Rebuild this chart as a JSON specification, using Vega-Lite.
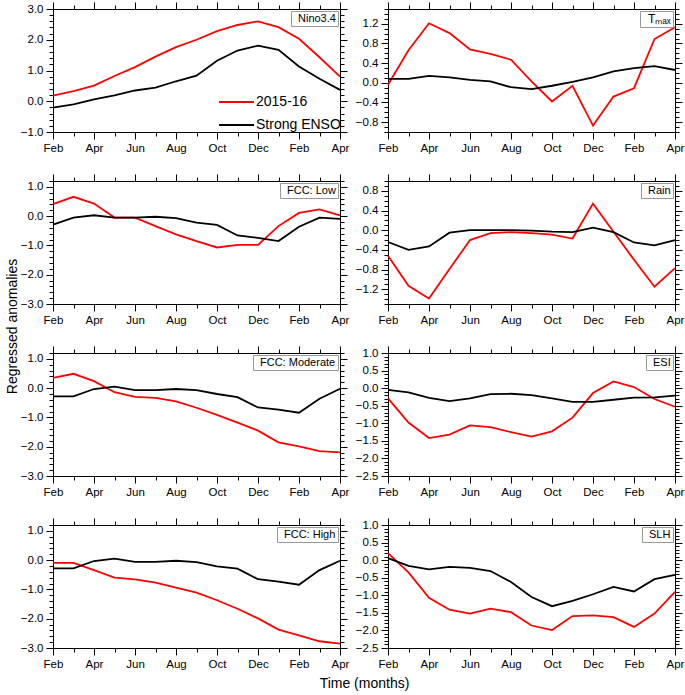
{
"$schema":"https://vega.github.io/schema/vega-lite/v6.json",
"background":"white",
"padding":{"left":4,"top":1,"right":0,"bottom":0},
"config":{"font":"Liberation Sans","view":{"stroke":"black","strokeWidth":1},"axis":{"grid":false,"domain":false,"tickColor":"black","tickWidth":1,"labelColor":"black","labelFont":"Liberation Sans","labelFontSize":11.5,"labelPadding":3,"titleFont":"Liberation Sans","titleFontSize":14,"titleFontWeight":"normal","titleColor":"black"},"legend":{"labelFont":"Liberation Sans","labelColor":"black"}},
"data":{"values":[
{"p":"Nino3.4","s":"2015-16","m":0,"v":0.18},{"p":"Nino3.4","s":"2015-16","m":1,"v":0.33},{"p":"Nino3.4","s":"2015-16","m":2,"v":0.51},{"p":"Nino3.4","s":"2015-16","m":3,"v":0.82},{"p":"Nino3.4","s":"2015-16","m":4,"v":1.11},{"p":"Nino3.4","s":"2015-16","m":5,"v":1.45},{"p":"Nino3.4","s":"2015-16","m":6,"v":1.76},{"p":"Nino3.4","s":"2015-16","m":7,"v":2.0},{"p":"Nino3.4","s":"2015-16","m":8,"v":2.28},{"p":"Nino3.4","s":"2015-16","m":9,"v":2.48},{"p":"Nino3.4","s":"2015-16","m":10,"v":2.6},{"p":"Nino3.4","s":"2015-16","m":11,"v":2.41},{"p":"Nino3.4","s":"2015-16","m":12,"v":2.03},{"p":"Nino3.4","s":"2015-16","m":13,"v":1.43},{"p":"Nino3.4","s":"2015-16","m":14,"v":0.8},
{"p":"Nino3.4","s":"Strong ENSO","m":0,"v":-0.21},{"p":"Nino3.4","s":"Strong ENSO","m":1,"v":-0.1},{"p":"Nino3.4","s":"Strong ENSO","m":2,"v":0.06},{"p":"Nino3.4","s":"Strong ENSO","m":3,"v":0.19},{"p":"Nino3.4","s":"Strong ENSO","m":4,"v":0.35},{"p":"Nino3.4","s":"Strong ENSO","m":5,"v":0.44},{"p":"Nino3.4","s":"Strong ENSO","m":6,"v":0.65},{"p":"Nino3.4","s":"Strong ENSO","m":7,"v":0.83},{"p":"Nino3.4","s":"Strong ENSO","m":8,"v":1.32},{"p":"Nino3.4","s":"Strong ENSO","m":9,"v":1.65},{"p":"Nino3.4","s":"Strong ENSO","m":10,"v":1.81},{"p":"Nino3.4","s":"Strong ENSO","m":11,"v":1.67},{"p":"Nino3.4","s":"Strong ENSO","m":12,"v":1.13},{"p":"Nino3.4","s":"Strong ENSO","m":13,"v":0.73},{"p":"Nino3.4","s":"Strong ENSO","m":14,"v":0.37},
{"p":"Tₘₐₓ","s":"2015-16","m":0,"v":-0.04},{"p":"Tₘₐₓ","s":"2015-16","m":1,"v":0.66},{"p":"Tₘₐₓ","s":"2015-16","m":2,"v":1.21},{"p":"Tₘₐₓ","s":"2015-16","m":3,"v":1.01},{"p":"Tₘₐₓ","s":"2015-16","m":4,"v":0.68},{"p":"Tₘₐₓ","s":"2015-16","m":5,"v":0.59},{"p":"Tₘₐₓ","s":"2015-16","m":6,"v":0.47},{"p":"Tₘₐₓ","s":"2015-16","m":7,"v":0.03},{"p":"Tₘₐₓ","s":"2015-16","m":8,"v":-0.38},{"p":"Tₘₐₓ","s":"2015-16","m":9,"v":-0.06},{"p":"Tₘₐₓ","s":"2015-16","m":10,"v":-0.87},{"p":"Tₘₐₓ","s":"2015-16","m":11,"v":-0.28},{"p":"Tₘₐₓ","s":"2015-16","m":12,"v":-0.11},{"p":"Tₘₐₓ","s":"2015-16","m":13,"v":0.89},{"p":"Tₘₐₓ","s":"2015-16","m":14,"v":1.13},
{"p":"Tₘₐₓ","s":"Strong ENSO","m":0,"v":0.08},{"p":"Tₘₐₓ","s":"Strong ENSO","m":1,"v":0.08},{"p":"Tₘₐₓ","s":"Strong ENSO","m":2,"v":0.14},{"p":"Tₘₐₓ","s":"Strong ENSO","m":3,"v":0.11},{"p":"Tₘₐₓ","s":"Strong ENSO","m":4,"v":0.06},{"p":"Tₘₐₓ","s":"Strong ENSO","m":5,"v":0.03},{"p":"Tₘₐₓ","s":"Strong ENSO","m":6,"v":-0.09},{"p":"Tₘₐₓ","s":"Strong ENSO","m":7,"v":-0.13},{"p":"Tₘₐₓ","s":"Strong ENSO","m":8,"v":-0.06},{"p":"Tₘₐₓ","s":"Strong ENSO","m":9,"v":0.02},{"p":"Tₘₐₓ","s":"Strong ENSO","m":10,"v":0.11},{"p":"Tₘₐₓ","s":"Strong ENSO","m":11,"v":0.23},{"p":"Tₘₐₓ","s":"Strong ENSO","m":12,"v":0.3},{"p":"Tₘₐₓ","s":"Strong ENSO","m":13,"v":0.34},{"p":"Tₘₐₓ","s":"Strong ENSO","m":14,"v":0.26},
{"p":"FCC: Low","s":"2015-16","m":0,"v":0.41},{"p":"FCC: Low","s":"2015-16","m":1,"v":0.66},{"p":"FCC: Low","s":"2015-16","m":2,"v":0.43},{"p":"FCC: Low","s":"2015-16","m":3,"v":-0.05},{"p":"FCC: Low","s":"2015-16","m":4,"v":-0.05},{"p":"FCC: Low","s":"2015-16","m":5,"v":-0.34},{"p":"FCC: Low","s":"2015-16","m":6,"v":-0.62},{"p":"FCC: Low","s":"2015-16","m":7,"v":-0.85},{"p":"FCC: Low","s":"2015-16","m":8,"v":-1.07},{"p":"FCC: Low","s":"2015-16","m":9,"v":-0.98},{"p":"FCC: Low","s":"2015-16","m":10,"v":-0.98},{"p":"FCC: Low","s":"2015-16","m":11,"v":-0.34},{"p":"FCC: Low","s":"2015-16","m":12,"v":0.11},{"p":"FCC: Low","s":"2015-16","m":13,"v":0.23},{"p":"FCC: Low","s":"2015-16","m":14,"v":0.03},
{"p":"FCC: Low","s":"Strong ENSO","m":0,"v":-0.29},{"p":"FCC: Low","s":"Strong ENSO","m":1,"v":-0.05},{"p":"FCC: Low","s":"Strong ENSO","m":2,"v":0.03},{"p":"FCC: Low","s":"Strong ENSO","m":3,"v":-0.05},{"p":"FCC: Low","s":"Strong ENSO","m":4,"v":-0.05},{"p":"FCC: Low","s":"Strong ENSO","m":5,"v":-0.02},{"p":"FCC: Low","s":"Strong ENSO","m":6,"v":-0.07},{"p":"FCC: Low","s":"Strong ENSO","m":7,"v":-0.22},{"p":"FCC: Low","s":"Strong ENSO","m":8,"v":-0.3},{"p":"FCC: Low","s":"Strong ENSO","m":9,"v":-0.66},{"p":"FCC: Low","s":"Strong ENSO","m":10,"v":-0.74},{"p":"FCC: Low","s":"Strong ENSO","m":11,"v":-0.85},{"p":"FCC: Low","s":"Strong ENSO","m":12,"v":-0.36},{"p":"FCC: Low","s":"Strong ENSO","m":13,"v":-0.05},{"p":"FCC: Low","s":"Strong ENSO","m":14,"v":-0.09},
{"p":"Rain","s":"2015-16","m":0,"v":-0.52},{"p":"Rain","s":"2015-16","m":1,"v":-1.13},{"p":"Rain","s":"2015-16","m":2,"v":-1.39},{"p":"Rain","s":"2015-16","m":3,"v":-0.79},{"p":"Rain","s":"2015-16","m":4,"v":-0.2},{"p":"Rain","s":"2015-16","m":5,"v":-0.06},{"p":"Rain","s":"2015-16","m":6,"v":-0.04},{"p":"Rain","s":"2015-16","m":7,"v":-0.06},{"p":"Rain","s":"2015-16","m":8,"v":-0.09},{"p":"Rain","s":"2015-16","m":9,"v":-0.17},{"p":"Rain","s":"2015-16","m":10,"v":0.54},{"p":"Rain","s":"2015-16","m":11,"v":-0.03},{"p":"Rain","s":"2015-16","m":12,"v":-0.6},{"p":"Rain","s":"2015-16","m":13,"v":-1.15},{"p":"Rain","s":"2015-16","m":14,"v":-0.77},
{"p":"Rain","s":"Strong ENSO","m":0,"v":-0.24},{"p":"Rain","s":"Strong ENSO","m":1,"v":-0.4},{"p":"Rain","s":"Strong ENSO","m":2,"v":-0.33},{"p":"Rain","s":"Strong ENSO","m":3,"v":-0.05},{"p":"Rain","s":"Strong ENSO","m":4,"v":0.0},{"p":"Rain","s":"Strong ENSO","m":5,"v":0.0},{"p":"Rain","s":"Strong ENSO","m":6,"v":0.0},{"p":"Rain","s":"Strong ENSO","m":7,"v":-0.01},{"p":"Rain","s":"Strong ENSO","m":8,"v":-0.03},{"p":"Rain","s":"Strong ENSO","m":9,"v":-0.04},{"p":"Rain","s":"Strong ENSO","m":10,"v":0.05},{"p":"Rain","s":"Strong ENSO","m":11,"v":-0.04},{"p":"Rain","s":"Strong ENSO","m":12,"v":-0.25},{"p":"Rain","s":"Strong ENSO","m":13,"v":-0.31},{"p":"Rain","s":"Strong ENSO","m":14,"v":-0.2},
{"p":"FCC: Moderate","s":"2015-16","m":0,"v":0.35},{"p":"FCC: Moderate","s":"2015-16","m":1,"v":0.49},{"p":"FCC: Moderate","s":"2015-16","m":2,"v":0.24},{"p":"FCC: Moderate","s":"2015-16","m":3,"v":-0.14},{"p":"FCC: Moderate","s":"2015-16","m":4,"v":-0.3},{"p":"FCC: Moderate","s":"2015-16","m":5,"v":-0.33},{"p":"FCC: Moderate","s":"2015-16","m":6,"v":-0.45},{"p":"FCC: Moderate","s":"2015-16","m":7,"v":-0.67},{"p":"FCC: Moderate","s":"2015-16","m":8,"v":-0.91},{"p":"FCC: Moderate","s":"2015-16","m":9,"v":-1.18},{"p":"FCC: Moderate","s":"2015-16","m":10,"v":-1.45},{"p":"FCC: Moderate","s":"2015-16","m":11,"v":-1.85},{"p":"FCC: Moderate","s":"2015-16","m":12,"v":-1.99},{"p":"FCC: Moderate","s":"2015-16","m":13,"v":-2.15},{"p":"FCC: Moderate","s":"2015-16","m":14,"v":-2.19},
{"p":"FCC: Moderate","s":"Strong ENSO","m":0,"v":-0.28},{"p":"FCC: Moderate","s":"Strong ENSO","m":1,"v":-0.28},{"p":"FCC: Moderate","s":"Strong ENSO","m":2,"v":-0.03},{"p":"FCC: Moderate","s":"Strong ENSO","m":3,"v":0.05},{"p":"FCC: Moderate","s":"Strong ENSO","m":4,"v":-0.07},{"p":"FCC: Moderate","s":"Strong ENSO","m":5,"v":-0.07},{"p":"FCC: Moderate","s":"Strong ENSO","m":6,"v":-0.03},{"p":"FCC: Moderate","s":"Strong ENSO","m":7,"v":-0.07},{"p":"FCC: Moderate","s":"Strong ENSO","m":8,"v":-0.2},{"p":"FCC: Moderate","s":"Strong ENSO","m":9,"v":-0.31},{"p":"FCC: Moderate","s":"Strong ENSO","m":10,"v":-0.66},{"p":"FCC: Moderate","s":"Strong ENSO","m":11,"v":-0.73},{"p":"FCC: Moderate","s":"Strong ENSO","m":12,"v":-0.84},{"p":"FCC: Moderate","s":"Strong ENSO","m":13,"v":-0.36},{"p":"FCC: Moderate","s":"Strong ENSO","m":14,"v":-0.02},
{"p":"ESI","s":"2015-16","m":0,"v":-0.29},{"p":"ESI","s":"2015-16","m":1,"v":-0.98},{"p":"ESI","s":"2015-16","m":2,"v":-1.42},{"p":"ESI","s":"2015-16","m":3,"v":-1.32},{"p":"ESI","s":"2015-16","m":4,"v":-1.06},{"p":"ESI","s":"2015-16","m":5,"v":-1.11},{"p":"ESI","s":"2015-16","m":6,"v":-1.25},{"p":"ESI","s":"2015-16","m":7,"v":-1.38},{"p":"ESI","s":"2015-16","m":8,"v":-1.23},{"p":"ESI","s":"2015-16","m":9,"v":-0.84},{"p":"ESI","s":"2015-16","m":10,"v":-0.14},{"p":"ESI","s":"2015-16","m":11,"v":0.19},{"p":"ESI","s":"2015-16","m":12,"v":0.03},{"p":"ESI","s":"2015-16","m":13,"v":-0.31},{"p":"ESI","s":"2015-16","m":14,"v":-0.53},
{"p":"ESI","s":"Strong ENSO","m":0,"v":-0.05},{"p":"ESI","s":"Strong ENSO","m":1,"v":-0.12},{"p":"ESI","s":"Strong ENSO","m":2,"v":-0.28},{"p":"ESI","s":"Strong ENSO","m":3,"v":-0.37},{"p":"ESI","s":"Strong ENSO","m":4,"v":-0.29},{"p":"ESI","s":"Strong ENSO","m":5,"v":-0.17},{"p":"ESI","s":"Strong ENSO","m":6,"v":-0.16},{"p":"ESI","s":"Strong ENSO","m":7,"v":-0.2},{"p":"ESI","s":"Strong ENSO","m":8,"v":-0.29},{"p":"ESI","s":"Strong ENSO","m":9,"v":-0.39},{"p":"ESI","s":"Strong ENSO","m":10,"v":-0.39},{"p":"ESI","s":"Strong ENSO","m":11,"v":-0.33},{"p":"ESI","s":"Strong ENSO","m":12,"v":-0.27},{"p":"ESI","s":"Strong ENSO","m":13,"v":-0.26},{"p":"ESI","s":"Strong ENSO","m":14,"v":-0.21},
{"p":"FCC: High","s":"2015-16","m":0,"v":-0.09},{"p":"FCC: High","s":"2015-16","m":1,"v":-0.09},{"p":"FCC: High","s":"2015-16","m":2,"v":-0.34},{"p":"FCC: High","s":"2015-16","m":3,"v":-0.6},{"p":"FCC: High","s":"2015-16","m":4,"v":-0.66},{"p":"FCC: High","s":"2015-16","m":5,"v":-0.77},{"p":"FCC: High","s":"2015-16","m":6,"v":-0.94},{"p":"FCC: High","s":"2015-16","m":7,"v":-1.11},{"p":"FCC: High","s":"2015-16","m":8,"v":-1.37},{"p":"FCC: High","s":"2015-16","m":9,"v":-1.66},{"p":"FCC: High","s":"2015-16","m":10,"v":-1.99},{"p":"FCC: High","s":"2015-16","m":11,"v":-2.37},{"p":"FCC: High","s":"2015-16","m":12,"v":-2.57},{"p":"FCC: High","s":"2015-16","m":13,"v":-2.77},{"p":"FCC: High","s":"2015-16","m":14,"v":-2.85},
{"p":"FCC: High","s":"Strong ENSO","m":0,"v":-0.28},{"p":"FCC: High","s":"Strong ENSO","m":1,"v":-0.28},{"p":"FCC: High","s":"Strong ENSO","m":2,"v":-0.03},{"p":"FCC: High","s":"Strong ENSO","m":3,"v":0.05},{"p":"FCC: High","s":"Strong ENSO","m":4,"v":-0.06},{"p":"FCC: High","s":"Strong ENSO","m":5,"v":-0.06},{"p":"FCC: High","s":"Strong ENSO","m":6,"v":-0.02},{"p":"FCC: High","s":"Strong ENSO","m":7,"v":-0.07},{"p":"FCC: High","s":"Strong ENSO","m":8,"v":-0.21},{"p":"FCC: High","s":"Strong ENSO","m":9,"v":-0.29},{"p":"FCC: High","s":"Strong ENSO","m":10,"v":-0.65},{"p":"FCC: High","s":"Strong ENSO","m":11,"v":-0.73},{"p":"FCC: High","s":"Strong ENSO","m":12,"v":-0.84},{"p":"FCC: High","s":"Strong ENSO","m":13,"v":-0.34},{"p":"FCC: High","s":"Strong ENSO","m":14,"v":-0.02},
{"p":"SLH","s":"2015-16","m":0,"v":0.2},{"p":"SLH","s":"2015-16","m":1,"v":-0.35},{"p":"SLH","s":"2015-16","m":2,"v":-1.07},{"p":"SLH","s":"2015-16","m":3,"v":-1.41},{"p":"SLH","s":"2015-16","m":4,"v":-1.52},{"p":"SLH","s":"2015-16","m":5,"v":-1.38},{"p":"SLH","s":"2015-16","m":6,"v":-1.48},{"p":"SLH","s":"2015-16","m":7,"v":-1.86},{"p":"SLH","s":"2015-16","m":8,"v":-1.99},{"p":"SLH","s":"2015-16","m":9,"v":-1.59},{"p":"SLH","s":"2015-16","m":10,"v":-1.57},{"p":"SLH","s":"2015-16","m":11,"v":-1.62},{"p":"SLH","s":"2015-16","m":12,"v":-1.9},{"p":"SLH","s":"2015-16","m":13,"v":-1.52},{"p":"SLH","s":"2015-16","m":14,"v":-0.9},
{"p":"SLH","s":"Strong ENSO","m":0,"v":0.06},{"p":"SLH","s":"Strong ENSO","m":1,"v":-0.16},{"p":"SLH","s":"Strong ENSO","m":2,"v":-0.26},{"p":"SLH","s":"Strong ENSO","m":3,"v":-0.19},{"p":"SLH","s":"Strong ENSO","m":4,"v":-0.22},{"p":"SLH","s":"Strong ENSO","m":5,"v":-0.31},{"p":"SLH","s":"Strong ENSO","m":6,"v":-0.62},{"p":"SLH","s":"Strong ENSO","m":7,"v":-1.05},{"p":"SLH","s":"Strong ENSO","m":8,"v":-1.31},{"p":"SLH","s":"Strong ENSO","m":9,"v":-1.16},{"p":"SLH","s":"Strong ENSO","m":10,"v":-0.97},{"p":"SLH","s":"Strong ENSO","m":11,"v":-0.76},{"p":"SLH","s":"Strong ENSO","m":12,"v":-0.89},{"p":"SLH","s":"Strong ENSO","m":13,"v":-0.54},{"p":"SLH","s":"Strong ENSO","m":14,"v":-0.42}
]},
"columns":2,
"spacing":{"row":49,"column":48},
"bounds":"flush",
"resolve":{"scale":{"color":"independent","shape":"independent"},"legend":{"color":"independent","shape":"independent"}},
"concat":[
{"width":287,"height":123,"transform":[{"filter":"datum.p == 'Nino3.4'"}],
"layer":[
{"mark":{"type":"line","strokeWidth":1.8},"encoding":{
"x":{"field":"m","type":"quantitative","scale":{"domain":[0,14],"nice":false,"zero":false},"axis":{"orient":"bottom","values":[0,1,2,3,4,5,6,7,8,9,10,11,12,13,14],"tickSize":{"condition":{"test":"datum.value % 2 == 0","value":7},"value":4},"labelExpr":"datum.value % 2 == 0 ? ['Feb','Mar','Apr','May','Jun','Jul','Aug','Sep','Oct','Nov','Dec','Jan','Feb','Mar','Apr'][datum.value] : ''","labelFlush":false,"labelOverlap":false,"title":null}},
"y":{"field":"v","type":"quantitative","scale":{"domain":[-1,3],"nice":false,"zero":false},"axis":{"values":[-1,-0.8,-0.6,-0.4,-0.2,0,0.2,0.4,0.6,0.8,1,1.2,1.4,1.6,1.8,2,2.2,2.4,2.6,2.8,3],"tickSize":{"condition":{"test":"abs(datum.value - round(datum.value)) < 0.001","value":7},"value":4},"labelExpr":"abs(datum.value - round(datum.value)) < 0.001 ? format(datum.value, '.1f') : ''","labelOverlap":false,"title":null}},
"color":{"field":"s","type":"nominal","scale":{"domain":["2015-16","Strong ENSO"],"range":["#ff0000","#000000"]},"legend":{"orient":"none","legendX":175.5,"legendY":85,"title":null,"symbolType":"M-2.5,0H2.5","symbolSize":196,"symbolStrokeWidth":2,"labelFontSize":14,"labelOffset":11.5,"rowPadding":8,"padding":0}}}},
{"mark":{"type":"point","opacity":0},"encoding":{
"x":{"field":"m","type":"quantitative","axis":{"orient":"top","values":[0,1,2,3,4,5,6,7,8,9,10,11,12,13,14],"tickSize":{"condition":{"test":"datum.value % 2 == 0","value":7},"value":4},"labels":false,"title":null}},
"y":{"field":"v","type":"quantitative","axis":{"orient":"right","values":[-1,-0.8,-0.6,-0.4,-0.2,0,0.2,0.4,0.6,0.8,1,1.2,1.4,1.6,1.8,2,2.2,2.4,2.6,2.8,3],"tickSize":{"condition":{"test":"abs(datum.value - round(datum.value)) < 0.001","value":7},"value":4},"labels":false,"title":null}},
"shape":{"field":"p","type":"nominal","legend":{"orient":"top-right","offset":2,"title":null,"symbolSize":0,"symbolOpacity":0,"symbolStrokeWidth":0,"labelOffset":-6,"padding":2,"strokeColor":"#999999","fillColor":"white","labelFontSize":11}}}}
],
"resolve":{"axis":{"x":"independent","y":"independent"}}},
{"width":287,"height":123,"transform":[{"filter":"datum.p == 'Tₘₐₓ'"}],
"layer":[
{"mark":{"type":"line","strokeWidth":1.8},"encoding":{
"x":{"field":"m","type":"quantitative","scale":{"domain":[0,14],"nice":false,"zero":false},"axis":{"orient":"bottom","values":[0,1,2,3,4,5,6,7,8,9,10,11,12,13,14],"tickSize":{"condition":{"test":"datum.value % 2 == 0","value":7},"value":4},"labelExpr":"datum.value % 2 == 0 ? ['Feb','Mar','Apr','May','Jun','Jul','Aug','Sep','Oct','Nov','Dec','Jan','Feb','Mar','Apr'][datum.value] : ''","labelFlush":false,"labelOverlap":false,"title":null}},
"y":{"field":"v","type":"quantitative","scale":{"domain":[-1,1.5],"nice":false,"zero":false},"axis":{"values":[-1,-0.9,-0.8,-0.7,-0.6,-0.5,-0.4,-0.3,-0.2,-0.1,0,0.1,0.2,0.3,0.4,0.5,0.6,0.7,0.8,0.9,1,1.1,1.2,1.3,1.4,1.5],"tickSize":{"condition":{"test":"abs(datum.value * 2.5 - round(datum.value * 2.5)) < 0.001","value":7},"value":4},"labelExpr":"abs(datum.value * 2.5 - round(datum.value * 2.5)) < 0.001 ? format(datum.value, '.1f') : ''","labelOverlap":false,"title":null}},
"color":{"field":"s","type":"nominal","scale":{"domain":["2015-16","Strong ENSO"],"range":["#ff0000","#000000"]},"legend":null}}},
{"mark":{"type":"point","opacity":0},"encoding":{
"x":{"field":"m","type":"quantitative","axis":{"orient":"top","values":[0,1,2,3,4,5,6,7,8,9,10,11,12,13,14],"tickSize":{"condition":{"test":"datum.value % 2 == 0","value":7},"value":4},"labels":false,"title":null}},
"y":{"field":"v","type":"quantitative","axis":{"orient":"right","values":[-1,-0.9,-0.8,-0.7,-0.6,-0.5,-0.4,-0.3,-0.2,-0.1,0,0.1,0.2,0.3,0.4,0.5,0.6,0.7,0.8,0.9,1,1.1,1.2,1.3,1.4,1.5],"tickSize":{"condition":{"test":"abs(datum.value * 2.5 - round(datum.value * 2.5)) < 0.001","value":7},"value":4},"labels":false,"title":null}},
"shape":{"field":"p","type":"nominal","legend":{"orient":"top-right","offset":2,"title":null,"symbolSize":0,"symbolOpacity":0,"symbolStrokeWidth":0,"labelOffset":-6,"padding":2,"strokeColor":"#999999","fillColor":"white","labelFontSize":12}}}}
],
"resolve":{"axis":{"x":"independent","y":"independent"}}},
{"width":287,"height":123,"transform":[{"filter":"datum.p == 'FCC: Low'"}],
"layer":[
{"mark":{"type":"line","strokeWidth":1.8},"encoding":{
"x":{"field":"m","type":"quantitative","scale":{"domain":[0,14],"nice":false,"zero":false},"axis":{"orient":"bottom","values":[0,1,2,3,4,5,6,7,8,9,10,11,12,13,14],"tickSize":{"condition":{"test":"datum.value % 2 == 0","value":7},"value":4},"labelExpr":"datum.value % 2 == 0 ? ['Feb','Mar','Apr','May','Jun','Jul','Aug','Sep','Oct','Nov','Dec','Jan','Feb','Mar','Apr'][datum.value] : ''","labelFlush":false,"labelOverlap":false,"title":null}},
"y":{"field":"v","type":"quantitative","scale":{"domain":[-3,1.2],"nice":false,"zero":false},"axis":{"values":[-3,-2.8,-2.6,-2.4,-2.2,-2,-1.8,-1.6,-1.4,-1.2,-1,-0.8,-0.6,-0.4,-0.2,0,0.2,0.4,0.6,0.8,1,1.2],"tickSize":{"condition":{"test":"abs(datum.value - round(datum.value)) < 0.001","value":7},"value":4},"labelExpr":"abs(datum.value - round(datum.value)) < 0.001 ? format(datum.value, '.1f') : ''","labelOverlap":false,"title":"Regressed anomalies","titleX":-41,"titleY":145,"titleAngle":270,"titleAlign":"center","titleBaseline":"middle"}},
"color":{"field":"s","type":"nominal","scale":{"domain":["2015-16","Strong ENSO"],"range":["#ff0000","#000000"]},"legend":null}}},
{"mark":{"type":"point","opacity":0},"encoding":{
"x":{"field":"m","type":"quantitative","axis":{"orient":"top","values":[0,1,2,3,4,5,6,7,8,9,10,11,12,13,14],"tickSize":{"condition":{"test":"datum.value % 2 == 0","value":7},"value":4},"labels":false,"title":null}},
"y":{"field":"v","type":"quantitative","axis":{"orient":"right","values":[-3,-2.8,-2.6,-2.4,-2.2,-2,-1.8,-1.6,-1.4,-1.2,-1,-0.8,-0.6,-0.4,-0.2,0,0.2,0.4,0.6,0.8,1,1.2],"tickSize":{"condition":{"test":"abs(datum.value - round(datum.value)) < 0.001","value":7},"value":4},"labels":false,"title":null}},
"shape":{"field":"p","type":"nominal","legend":{"orient":"top-right","offset":2,"title":null,"symbolSize":0,"symbolOpacity":0,"symbolStrokeWidth":0,"labelOffset":-6,"padding":2,"strokeColor":"#999999","fillColor":"white","labelFontSize":11}}}}
],
"resolve":{"axis":{"x":"independent","y":"independent"}}},
{"width":287,"height":123,"transform":[{"filter":"datum.p == 'Rain'"}],
"layer":[
{"mark":{"type":"line","strokeWidth":1.8},"encoding":{
"x":{"field":"m","type":"quantitative","scale":{"domain":[0,14],"nice":false,"zero":false},"axis":{"orient":"bottom","values":[0,1,2,3,4,5,6,7,8,9,10,11,12,13,14],"tickSize":{"condition":{"test":"datum.value % 2 == 0","value":7},"value":4},"labelExpr":"datum.value % 2 == 0 ? ['Feb','Mar','Apr','May','Jun','Jul','Aug','Sep','Oct','Nov','Dec','Jan','Feb','Mar','Apr'][datum.value] : ''","labelFlush":false,"labelOverlap":false,"title":null}},
"y":{"field":"v","type":"quantitative","scale":{"domain":[-1.5,1],"nice":false,"zero":false},"axis":{"values":[-1.5,-1.4,-1.3,-1.2,-1.1,-1,-0.9,-0.8,-0.7,-0.6,-0.5,-0.4,-0.3,-0.2,-0.1,0,0.1,0.2,0.3,0.4,0.5,0.6,0.7,0.8,0.9,1],"tickSize":{"condition":{"test":"abs(datum.value * 2.5 - round(datum.value * 2.5)) < 0.001","value":7},"value":4},"labelExpr":"abs(datum.value * 2.5 - round(datum.value * 2.5)) < 0.001 ? format(datum.value, '.1f') : ''","labelOverlap":false,"title":null}},
"color":{"field":"s","type":"nominal","scale":{"domain":["2015-16","Strong ENSO"],"range":["#ff0000","#000000"]},"legend":null}}},
{"mark":{"type":"point","opacity":0},"encoding":{
"x":{"field":"m","type":"quantitative","axis":{"orient":"top","values":[0,1,2,3,4,5,6,7,8,9,10,11,12,13,14],"tickSize":{"condition":{"test":"datum.value % 2 == 0","value":7},"value":4},"labels":false,"title":null}},
"y":{"field":"v","type":"quantitative","axis":{"orient":"right","values":[-1.5,-1.4,-1.3,-1.2,-1.1,-1,-0.9,-0.8,-0.7,-0.6,-0.5,-0.4,-0.3,-0.2,-0.1,0,0.1,0.2,0.3,0.4,0.5,0.6,0.7,0.8,0.9,1],"tickSize":{"condition":{"test":"abs(datum.value * 2.5 - round(datum.value * 2.5)) < 0.001","value":7},"value":4},"labels":false,"title":null}},
"shape":{"field":"p","type":"nominal","legend":{"orient":"top-right","offset":2,"title":null,"symbolSize":0,"symbolOpacity":0,"symbolStrokeWidth":0,"labelOffset":-6,"padding":2,"strokeColor":"#999999","fillColor":"white","labelFontSize":11}}}}
],
"resolve":{"axis":{"x":"independent","y":"independent"}}},
{"width":287,"height":123,"transform":[{"filter":"datum.p == 'FCC: Moderate'"}],
"layer":[
{"mark":{"type":"line","strokeWidth":1.8},"encoding":{
"x":{"field":"m","type":"quantitative","scale":{"domain":[0,14],"nice":false,"zero":false},"axis":{"orient":"bottom","values":[0,1,2,3,4,5,6,7,8,9,10,11,12,13,14],"tickSize":{"condition":{"test":"datum.value % 2 == 0","value":7},"value":4},"labelExpr":"datum.value % 2 == 0 ? ['Feb','Mar','Apr','May','Jun','Jul','Aug','Sep','Oct','Nov','Dec','Jan','Feb','Mar','Apr'][datum.value] : ''","labelFlush":false,"labelOverlap":false,"title":null}},
"y":{"field":"v","type":"quantitative","scale":{"domain":[-3,1.2],"nice":false,"zero":false},"axis":{"values":[-3,-2.8,-2.6,-2.4,-2.2,-2,-1.8,-1.6,-1.4,-1.2,-1,-0.8,-0.6,-0.4,-0.2,0,0.2,0.4,0.6,0.8,1,1.2],"tickSize":{"condition":{"test":"abs(datum.value - round(datum.value)) < 0.001","value":7},"value":4},"labelExpr":"abs(datum.value - round(datum.value)) < 0.001 ? format(datum.value, '.1f') : ''","labelOverlap":false,"title":null}},
"color":{"field":"s","type":"nominal","scale":{"domain":["2015-16","Strong ENSO"],"range":["#ff0000","#000000"]},"legend":null}}},
{"mark":{"type":"point","opacity":0},"encoding":{
"x":{"field":"m","type":"quantitative","axis":{"orient":"top","values":[0,1,2,3,4,5,6,7,8,9,10,11,12,13,14],"tickSize":{"condition":{"test":"datum.value % 2 == 0","value":7},"value":4},"labels":false,"title":null}},
"y":{"field":"v","type":"quantitative","axis":{"orient":"right","values":[-3,-2.8,-2.6,-2.4,-2.2,-2,-1.8,-1.6,-1.4,-1.2,-1,-0.8,-0.6,-0.4,-0.2,0,0.2,0.4,0.6,0.8,1,1.2],"tickSize":{"condition":{"test":"abs(datum.value - round(datum.value)) < 0.001","value":7},"value":4},"labels":false,"title":null}},
"shape":{"field":"p","type":"nominal","legend":{"orient":"top-right","offset":2,"title":null,"symbolSize":0,"symbolOpacity":0,"symbolStrokeWidth":0,"labelOffset":-6,"padding":2,"strokeColor":"#999999","fillColor":"white","labelFontSize":11}}}}
],
"resolve":{"axis":{"x":"independent","y":"independent"}}},
{"width":287,"height":123,"transform":[{"filter":"datum.p == 'ESI'"}],
"layer":[
{"mark":{"type":"line","strokeWidth":1.8},"encoding":{
"x":{"field":"m","type":"quantitative","scale":{"domain":[0,14],"nice":false,"zero":false},"axis":{"orient":"bottom","values":[0,1,2,3,4,5,6,7,8,9,10,11,12,13,14],"tickSize":{"condition":{"test":"datum.value % 2 == 0","value":7},"value":4},"labelExpr":"datum.value % 2 == 0 ? ['Feb','Mar','Apr','May','Jun','Jul','Aug','Sep','Oct','Nov','Dec','Jan','Feb','Mar','Apr'][datum.value] : ''","labelFlush":false,"labelOverlap":false,"title":null}},
"y":{"field":"v","type":"quantitative","scale":{"domain":[-2.5,1],"nice":false,"zero":false},"axis":{"values":[-2.5,-2.4,-2.3,-2.2,-2.1,-2,-1.9,-1.8,-1.7,-1.6,-1.5,-1.4,-1.3,-1.2,-1.1,-1,-0.9,-0.8,-0.7,-0.6,-0.5,-0.4,-0.3,-0.2,-0.1,0,0.1,0.2,0.3,0.4,0.5,0.6,0.7,0.8,0.9,1],"tickSize":{"condition":{"test":"abs(datum.value * 2 - round(datum.value * 2)) < 0.001","value":7},"value":4},"labelExpr":"abs(datum.value * 2 - round(datum.value * 2)) < 0.001 ? format(datum.value, '.1f') : ''","labelOverlap":false,"title":null}},
"color":{"field":"s","type":"nominal","scale":{"domain":["2015-16","Strong ENSO"],"range":["#ff0000","#000000"]},"legend":null}}},
{"mark":{"type":"point","opacity":0},"encoding":{
"x":{"field":"m","type":"quantitative","axis":{"orient":"top","values":[0,1,2,3,4,5,6,7,8,9,10,11,12,13,14],"tickSize":{"condition":{"test":"datum.value % 2 == 0","value":7},"value":4},"labels":false,"title":null}},
"y":{"field":"v","type":"quantitative","axis":{"orient":"right","values":[-2.5,-2.4,-2.3,-2.2,-2.1,-2,-1.9,-1.8,-1.7,-1.6,-1.5,-1.4,-1.3,-1.2,-1.1,-1,-0.9,-0.8,-0.7,-0.6,-0.5,-0.4,-0.3,-0.2,-0.1,0,0.1,0.2,0.3,0.4,0.5,0.6,0.7,0.8,0.9,1],"tickSize":{"condition":{"test":"abs(datum.value * 2 - round(datum.value * 2)) < 0.001","value":7},"value":4},"labels":false,"title":null}},
"shape":{"field":"p","type":"nominal","legend":{"orient":"top-right","offset":2,"title":null,"symbolSize":0,"symbolOpacity":0,"symbolStrokeWidth":0,"labelOffset":-6,"padding":2,"strokeColor":"#999999","fillColor":"white","labelFontSize":11}}}}
],
"resolve":{"axis":{"x":"independent","y":"independent"}}},
{"width":287,"height":123,"transform":[{"filter":"datum.p == 'FCC: High'"}],
"layer":[
{"mark":{"type":"line","strokeWidth":1.8},"encoding":{
"x":{"field":"m","type":"quantitative","scale":{"domain":[0,14],"nice":false,"zero":false},"axis":{"orient":"bottom","values":[0,1,2,3,4,5,6,7,8,9,10,11,12,13,14],"tickSize":{"condition":{"test":"datum.value % 2 == 0","value":7},"value":4},"labelExpr":"datum.value % 2 == 0 ? ['Feb','Mar','Apr','May','Jun','Jul','Aug','Sep','Oct','Nov','Dec','Jan','Feb','Mar','Apr'][datum.value] : ''","labelFlush":false,"labelOverlap":false,"title":"Time (months)","titleX":311,"titleY":35,"titleAlign":"center","titleBaseline":"middle"}},
"y":{"field":"v","type":"quantitative","scale":{"domain":[-3,1.2],"nice":false,"zero":false},"axis":{"values":[-3,-2.8,-2.6,-2.4,-2.2,-2,-1.8,-1.6,-1.4,-1.2,-1,-0.8,-0.6,-0.4,-0.2,0,0.2,0.4,0.6,0.8,1,1.2],"tickSize":{"condition":{"test":"abs(datum.value - round(datum.value)) < 0.001","value":7},"value":4},"labelExpr":"abs(datum.value - round(datum.value)) < 0.001 ? format(datum.value, '.1f') : ''","labelOverlap":false,"title":null}},
"color":{"field":"s","type":"nominal","scale":{"domain":["2015-16","Strong ENSO"],"range":["#ff0000","#000000"]},"legend":null}}},
{"mark":{"type":"point","opacity":0},"encoding":{
"x":{"field":"m","type":"quantitative","axis":{"orient":"top","values":[0,1,2,3,4,5,6,7,8,9,10,11,12,13,14],"tickSize":{"condition":{"test":"datum.value % 2 == 0","value":7},"value":4},"labels":false,"title":null}},
"y":{"field":"v","type":"quantitative","axis":{"orient":"right","values":[-3,-2.8,-2.6,-2.4,-2.2,-2,-1.8,-1.6,-1.4,-1.2,-1,-0.8,-0.6,-0.4,-0.2,0,0.2,0.4,0.6,0.8,1,1.2],"tickSize":{"condition":{"test":"abs(datum.value - round(datum.value)) < 0.001","value":7},"value":4},"labels":false,"title":null}},
"shape":{"field":"p","type":"nominal","legend":{"orient":"top-right","offset":2,"title":null,"symbolSize":0,"symbolOpacity":0,"symbolStrokeWidth":0,"labelOffset":-6,"padding":2,"strokeColor":"#999999","fillColor":"white","labelFontSize":11}}}}
],
"resolve":{"axis":{"x":"independent","y":"independent"}}},
{"width":287,"height":123,"transform":[{"filter":"datum.p == 'SLH'"}],
"layer":[
{"mark":{"type":"line","strokeWidth":1.8},"encoding":{
"x":{"field":"m","type":"quantitative","scale":{"domain":[0,14],"nice":false,"zero":false},"axis":{"orient":"bottom","values":[0,1,2,3,4,5,6,7,8,9,10,11,12,13,14],"tickSize":{"condition":{"test":"datum.value % 2 == 0","value":7},"value":4},"labelExpr":"datum.value % 2 == 0 ? ['Feb','Mar','Apr','May','Jun','Jul','Aug','Sep','Oct','Nov','Dec','Jan','Feb','Mar','Apr'][datum.value] : ''","labelFlush":false,"labelOverlap":false,"title":null}},
"y":{"field":"v","type":"quantitative","scale":{"domain":[-2.5,1],"nice":false,"zero":false},"axis":{"values":[-2.5,-2.4,-2.3,-2.2,-2.1,-2,-1.9,-1.8,-1.7,-1.6,-1.5,-1.4,-1.3,-1.2,-1.1,-1,-0.9,-0.8,-0.7,-0.6,-0.5,-0.4,-0.3,-0.2,-0.1,0,0.1,0.2,0.3,0.4,0.5,0.6,0.7,0.8,0.9,1],"tickSize":{"condition":{"test":"abs(datum.value * 2 - round(datum.value * 2)) < 0.001","value":7},"value":4},"labelExpr":"abs(datum.value * 2 - round(datum.value * 2)) < 0.001 ? format(datum.value, '.1f') : ''","labelOverlap":false,"title":null}},
"color":{"field":"s","type":"nominal","scale":{"domain":["2015-16","Strong ENSO"],"range":["#ff0000","#000000"]},"legend":null}}},
{"mark":{"type":"point","opacity":0},"encoding":{
"x":{"field":"m","type":"quantitative","axis":{"orient":"top","values":[0,1,2,3,4,5,6,7,8,9,10,11,12,13,14],"tickSize":{"condition":{"test":"datum.value % 2 == 0","value":7},"value":4},"labels":false,"title":null}},
"y":{"field":"v","type":"quantitative","axis":{"orient":"right","values":[-2.5,-2.4,-2.3,-2.2,-2.1,-2,-1.9,-1.8,-1.7,-1.6,-1.5,-1.4,-1.3,-1.2,-1.1,-1,-0.9,-0.8,-0.7,-0.6,-0.5,-0.4,-0.3,-0.2,-0.1,0,0.1,0.2,0.3,0.4,0.5,0.6,0.7,0.8,0.9,1],"tickSize":{"condition":{"test":"abs(datum.value * 2 - round(datum.value * 2)) < 0.001","value":7},"value":4},"labels":false,"title":null}},
"shape":{"field":"p","type":"nominal","legend":{"orient":"top-right","offset":2,"title":null,"symbolSize":0,"symbolOpacity":0,"symbolStrokeWidth":0,"labelOffset":-6,"padding":2,"strokeColor":"#999999","fillColor":"white","labelFontSize":11}}}}
],
"resolve":{"axis":{"x":"independent","y":"independent"}}}
]
}
